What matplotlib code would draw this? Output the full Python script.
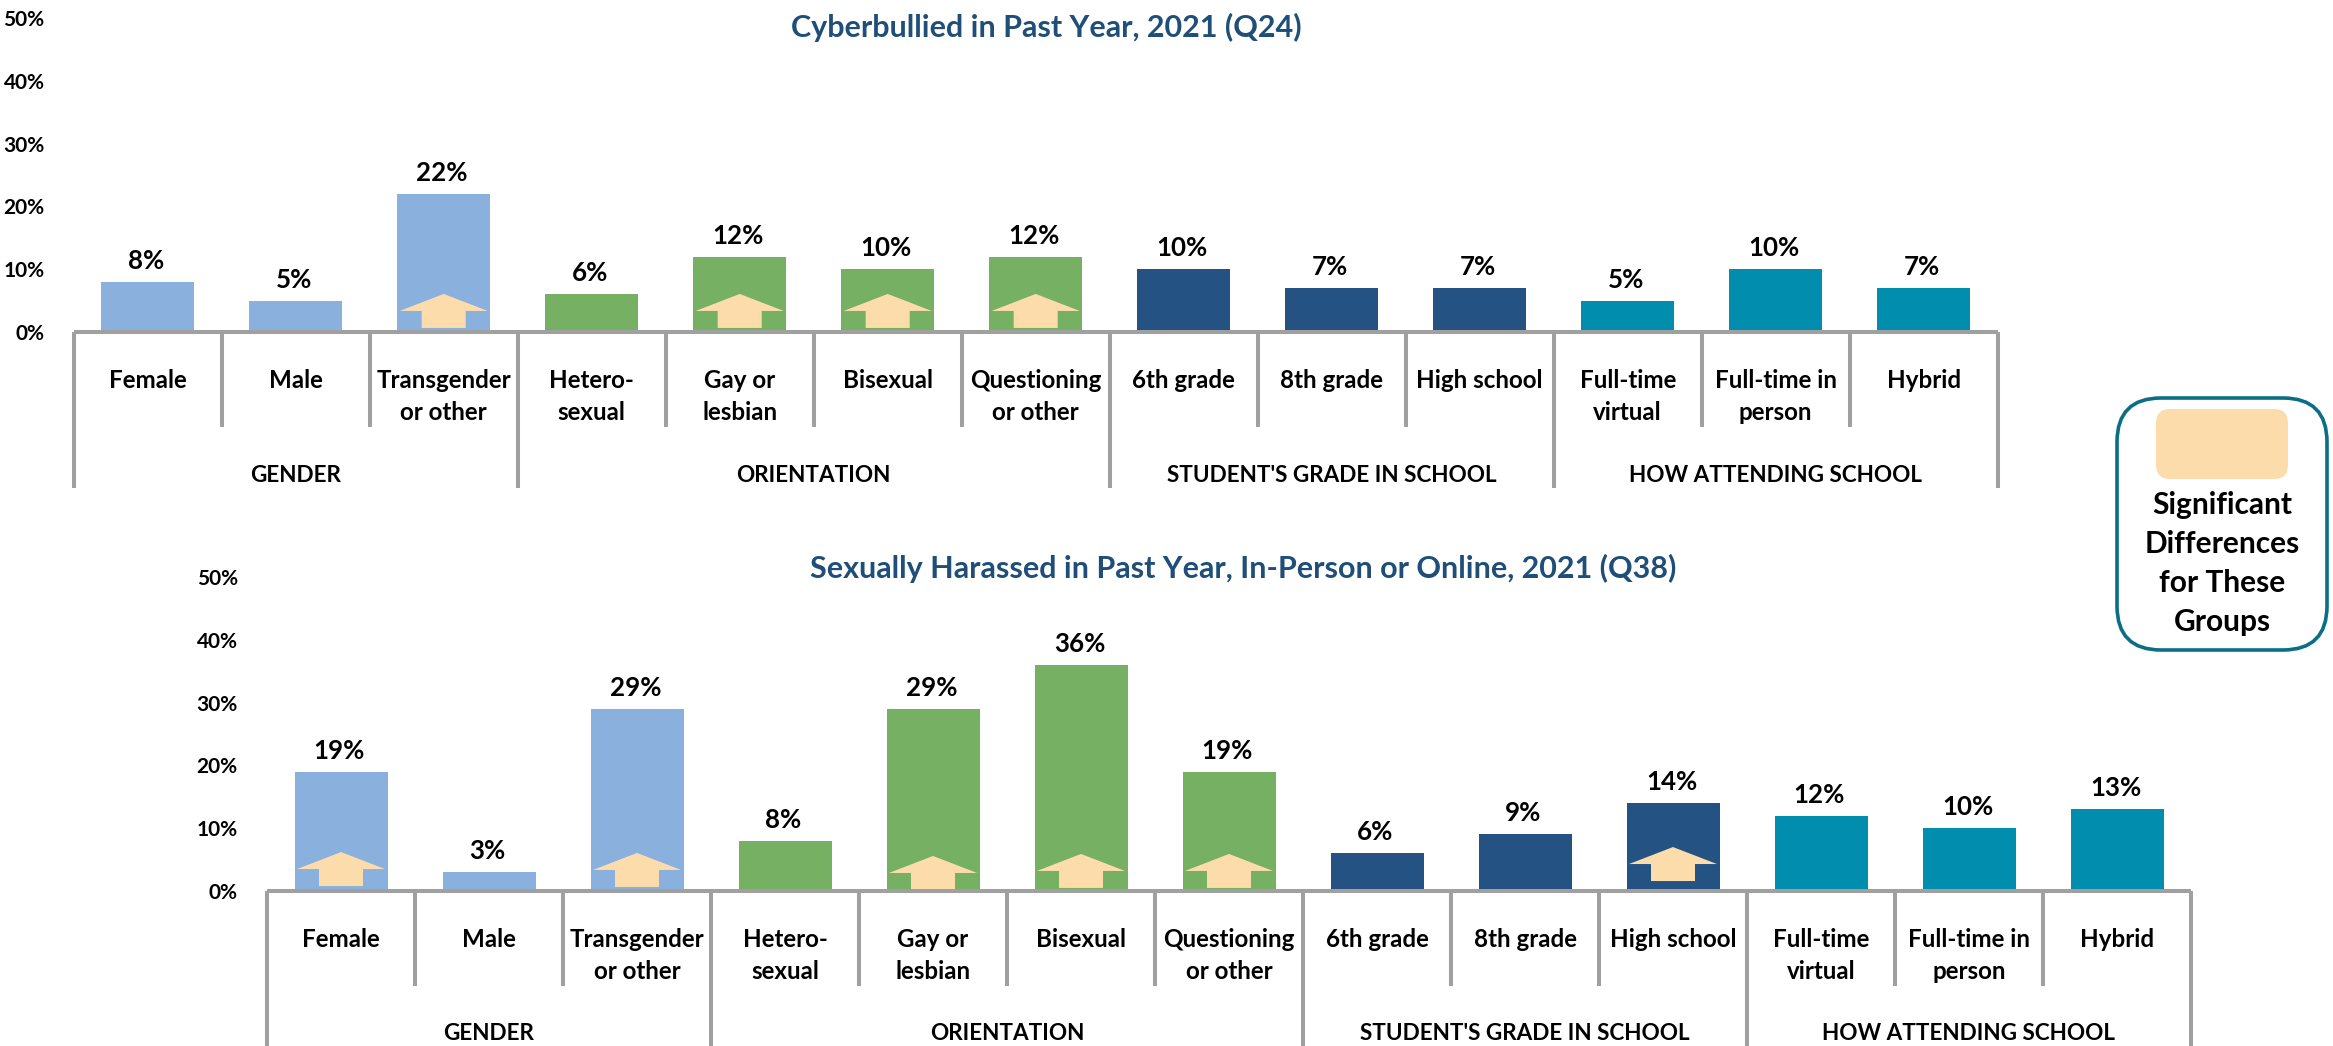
import matplotlib
matplotlib.use("Agg")
import matplotlib.pyplot as plt
from matplotlib.patches import Polygon, FancyBboxPatch

plt.rcParams['font.family'] = ['Lato', 'DejaVu Sans']
plt.rcParams['font.weight'] = 'bold'

W, H = 2333, 1046

categories = ["Female", "Male", "Transgender\nor other", "Hetero-\nsexual", "Gay or\nlesbian",
              "Bisexual", "Questioning\nor other", "6th grade", "8th grade", "High school",
              "Full-time\nvirtual", "Full-time in\nperson", "Hybrid"]
groups = ["GENDER", "ORIENTATION", "STUDENT'S GRADE IN SCHOOL", "HOW ATTENDING SCHOOL"]
group_sizes = [3, 4, 3, 3]
group_colors = ["#8AB1DE", "#76B062", "#235283", "#008DAE"]
y_ticks = [0, 10, 20, 30, 40, 50]

title_top = "Cyberbullied in Past Year, 2021 (Q24)"
values_top = [8, 5, 22, 6, 12, 10, 12, 10, 7, 7, 5, 10, 7]
arrows_top = [2, 4, 5, 6]

title_bot = "Sexually Harassed in Past Year, In-Person or Online, 2021 (Q38)"
values_bot = [19, 3, 29, 8, 29, 36, 19, 6, 9, 14, 12, 10, 13]
arrows_bot = [0, 2, 4, 5, 6, 9]
arrow_lift_bot = {0: 6.2, 2: 6.06, 4: 5.58, 5: 5.9, 6: 5.9, 9: 7.0}

legend_lines = "Significant\nDifferences\nfor These\nGroups"

GREY = "#A0A0A0"
TITLE = "#1F4E79"
ARROW = "#FDDCAB"
LEG = "#0B6E87"
CAT_W = 148.0
PCT = 6.28
FS = 18.6

fig = plt.figure(figsize=(W / 100, H / 100), dpi=100)


def draw(left, zero_y, values, arrows, title, title_y, lifts=None):
    ax = fig.add_axes([left / W, 1 - zero_y / H, 13 * CAT_W / W, 50 * PCT / H])
    ax.set_xlim(0, 13)
    ax.set_ylim(0, 50)
    ax.patch.set_alpha(0)
    for s in ax.spines.values():
        s.set_visible(False)
    ax.set_xticks([])
    ax.set_yticks(y_ticks)
    ax.set_yticklabels([f"{t}%" for t in y_ticks], fontsize=15, fontweight='bold')
    ax.tick_params(axis='y', length=0, pad=21)

    colors = [c for c, n in zip(group_colors, group_sizes) for _ in range(n)]
    xs = [i + 0.5 for i in range(13)]
    ax.bar(xs, values, width=93 / CAT_W, color=colors, linewidth=0, zorder=2)
    for x, v in zip(xs, values):
        ax.text(x - 0.01, v + 21 / PCT, f"{v}%", ha='center', va='center',
                fontsize=FS, fontweight='bold', color='black')

    # arrows marking significant differences
    for i in arrows:
        c = i + 0.5
        tip = (lifts or {}).get(i, 6.06)
        head = tip - 17 / PCT
        foot = tip - 34 / PCT
        hw, sw = 44 / CAT_W, 22 / CAT_W
        ax.add_patch(Polygon([(c, tip), (c + hw, head), (c + sw, head), (c + sw, foot),
                              (c - sw, foot), (c - sw, head), (c - hw, head)],
                             closed=True, facecolor=ARROW, edgecolor='none', zorder=3))

    # multi-level category axis
    axis_kw = dict(color=GREY, lw=2.9, clip_on=False, zorder=4, solid_capstyle='butt')
    ax.plot([0, 13], [0, 0], **axis_kw)
    minor_end = -95 / PCT
    major_end = -156 / PCT
    for i in range(14):
        ax.plot([i, i], [0, minor_end], **axis_kw)
    pos = 0
    for g, n in zip(groups, group_sizes):
        ax.text(pos + n / 2, -143 / PCT, g, ha='center', va='center',
                fontsize=16.2, fontweight='bold', clip_on=False)
        pos += n
    pos = 0
    for n in [0] + group_sizes:
        pos += n
        ax.plot([pos, pos], [minor_end, major_end], **axis_kw)
    for x, lab in zip(xs, categories):
        parts = lab.split("\n")
        for j, part in enumerate(parts):
            ax.text(x, -(48.5 + 32 * j) / PCT, part, ha='center', va='center',
                    fontsize=FS - 1.2, fontweight='bold', clip_on=False)
    fig.text(title_y[0] / W, 1 - title_y[1] / H, title, ha='center', va='center',
             fontsize=22, fontweight='bold', color=TITLE)


draw(73.7, 332, values_top, arrows_top, title_top, (1046, 27.5))
draw(267, 891, values_bot, arrows_bot, title_bot, (1243, 568.5), arrow_lift_bot)

# legend (figure pixel space)
ov = fig.add_axes([0, 0, 1, 1])
ov.set_xlim(0, W)
ov.set_ylim(H, 0)
ov.axis('off')
ov.patch.set_alpha(0)
ov.add_patch(FancyBboxPatch((2117 + 44, 398 + 44), 210 - 88, 252 - 88,
                            boxstyle="round,pad=44,rounding_size=44",
                            facecolor='white', edgecolor=LEG, lw=2.6))
ov.add_patch(FancyBboxPatch((2156 + 14, 409 + 14), 132 - 28, 70 - 28,
                            boxstyle="round,pad=14,rounding_size=14",
                            facecolor=ARROW, edgecolor='none'))
for j, line in enumerate(legend_lines.split("\n")):
    ov.text(2222, 505 + 39 * j, line, ha='center', va='center', fontsize=21.5,
            fontweight='bold', color='black')

fig.savefig("out.png", dpi=100, facecolor='white')
